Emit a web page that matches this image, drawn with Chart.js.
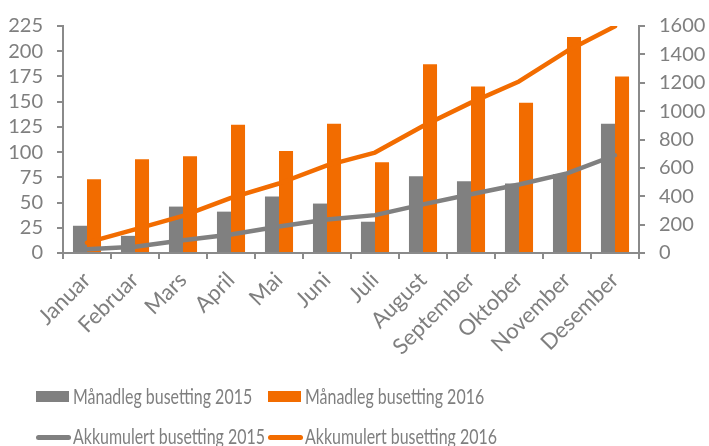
<!DOCTYPE html>
<html>
<head>
<meta charset="utf-8">
<script src="https://cdn.jsdelivr.net/npm/chart.js@4"></script>
<style>
  html, body { margin:0; padding:0; background:#fff; overflow:hidden; }
  #wrap { position:relative; width:709px; height:446px; }
  #legend { position:absolute; left:0; top:0; width:709px; height:446px; pointer-events:none;
            font-family:Lato, "Open Sans", sans-serif; font-size:21px; color:#7f7f7f; }
  .sw { position:absolute; }
  .txt { position:absolute; white-space:nowrap; transform:scaleX(0.76); transform-origin:left center; line-height:22px; }
</style>
</head>
<body>
<div id="wrap">
  <canvas id="c" width="709" height="446"></canvas>
  <div id="legend"></div>
</div>
<script>
// Månadleg og akkumulert busetting 2015 / 2016
const months = ['Januar','Februar','Mars','April','Mai','Juni','Juli','August','September','Oktober','November','Desember'];
const monthly2015 = [27, 17, 46, 41, 56, 49, 31, 76, 71, 69, 78, 128];
const monthly2016 = [73, 93, 96, 127, 101, 128, 90, 187, 165, 149, 214, 175];
const cumulative2015 = [27, 44, 90, 131, 187, 236, 267, 343, 414, 483, 561, 689];
const cumulative2016 = [73, 166, 262, 389, 490, 618, 708, 895, 1060, 1209, 1423, 1598];
const seriesNames = ['Månadleg busetting 2015','Månadleg busetting 2016','Akkumulert busetting 2015','Akkumulert busetting 2016'];

const GRAY = '#808080';
const ORANGE = '#f26c00';
const AXIS = '#8a8a8a';
const TXT = '#7f7f7f';
const FONT = {family:'Lato, "Open Sans", sans-serif', size:20};
const XFONT = {family:'Lato, "Open Sans", sans-serif', size:22};

new Chart(document.getElementById('c').getContext('2d'), {
  type:'bar',
  data:{
    labels: months,
    datasets:[
      {label:seriesNames[0], data:monthly2015, backgroundColor:GRAY, yAxisID:'y', order:2,
       categoryPercentage:0.585, barPercentage:1},
      {label:seriesNames[1], data:monthly2016, backgroundColor:ORANGE, yAxisID:'y', order:2,
       categoryPercentage:0.585, barPercentage:1},
      {type:'line', label:seriesNames[2], data:cumulative2015, borderColor:GRAY, borderWidth:4.5,
       pointRadius:0, tension:0, fill:false, yAxisID:'y1', order:1, borderCapStyle:'round', borderJoinStyle:'round'},
      {type:'line', label:seriesNames[3], data:cumulative2016, borderColor:ORANGE, borderWidth:4.5,
       pointRadius:0, tension:0, fill:false, yAxisID:'y1', order:0, borderCapStyle:'round', borderJoinStyle:'round'}
    ]
  },
  options:{
    responsive:false, animation:false,
    layout:{padding:{top:23, left:0, right:0, bottom:0}},
    plugins:{legend:{display:false}, tooltip:{enabled:false}},
    scales:{
      x:{
        grid:{display:true, drawOnChartArea:false, drawTicks:true, tickLength:6, color:AXIS, lineWidth:2, offset:true},
        border:{display:true, color:AXIS, width:2},
        ticks:{color:TXT, font:XFONT, minRotation:45, maxRotation:45, padding:8, autoSkip:false},
        afterFit:s=>{ s.height = 193; }
      },
      y:{
        position:'left', min:0, max:225,
        grid:{display:true, drawOnChartArea:false, drawTicks:true, tickLength:6, color:AXIS, lineWidth:2},
        border:{display:true, color:AXIS, width:2},
        ticks:{stepSize:25, autoSkip:false, color:TXT, font:FONT, padding:14},
        afterFit:s=>{ s.width = 63; }
      },
      y1:{
        position:'right', min:0, max:1600,
        grid:{display:true, drawOnChartArea:false, drawTicks:true, tickLength:6, color:AXIS, lineWidth:2},
        border:{display:true, color:AXIS, width:2},
        ticks:{stepSize:200, autoSkip:false, color:TXT, font:FONT, padding:14, callback:v=>String(v)},
        afterFit:s=>{ s.width = 70; }
      }
    }
  }
});

// legend (HTML, two fixed columns like the original)
const legendEl = document.getElementById('legend');
const legendItems = [
  {name:seriesNames[0], color:GRAY,   kind:'box',  x:36,  y:397},
  {name:seriesNames[1], color:ORANGE, kind:'box',  x:268, y:397},
  {name:seriesNames[2], color:GRAY,   kind:'line', x:36,  y:437},
  {name:seriesNames[3], color:ORANGE, kind:'line', x:268, y:437}
];
legendItems.forEach(it=>{
  const sw = document.createElement('div');
  sw.className = 'sw';
  if(it.kind==='box'){
    Object.assign(sw.style,{left:it.x+'px', top:(it.y-6)+'px', width:'33px', height:'11px', background:it.color});
  } else {
    Object.assign(sw.style,{left:it.x+'px', top:(it.y-2)+'px', width:'35px', height:'5px', background:it.color, borderRadius:'3px'});
  }
  legendEl.appendChild(sw);
  const t = document.createElement('div');
  t.className = 'txt';
  t.textContent = it.name;
  Object.assign(t.style,{left:(it.x+37)+'px', top:(it.y-12)+'px'});
  legendEl.appendChild(t);
});
</script>
</body>
</html>
